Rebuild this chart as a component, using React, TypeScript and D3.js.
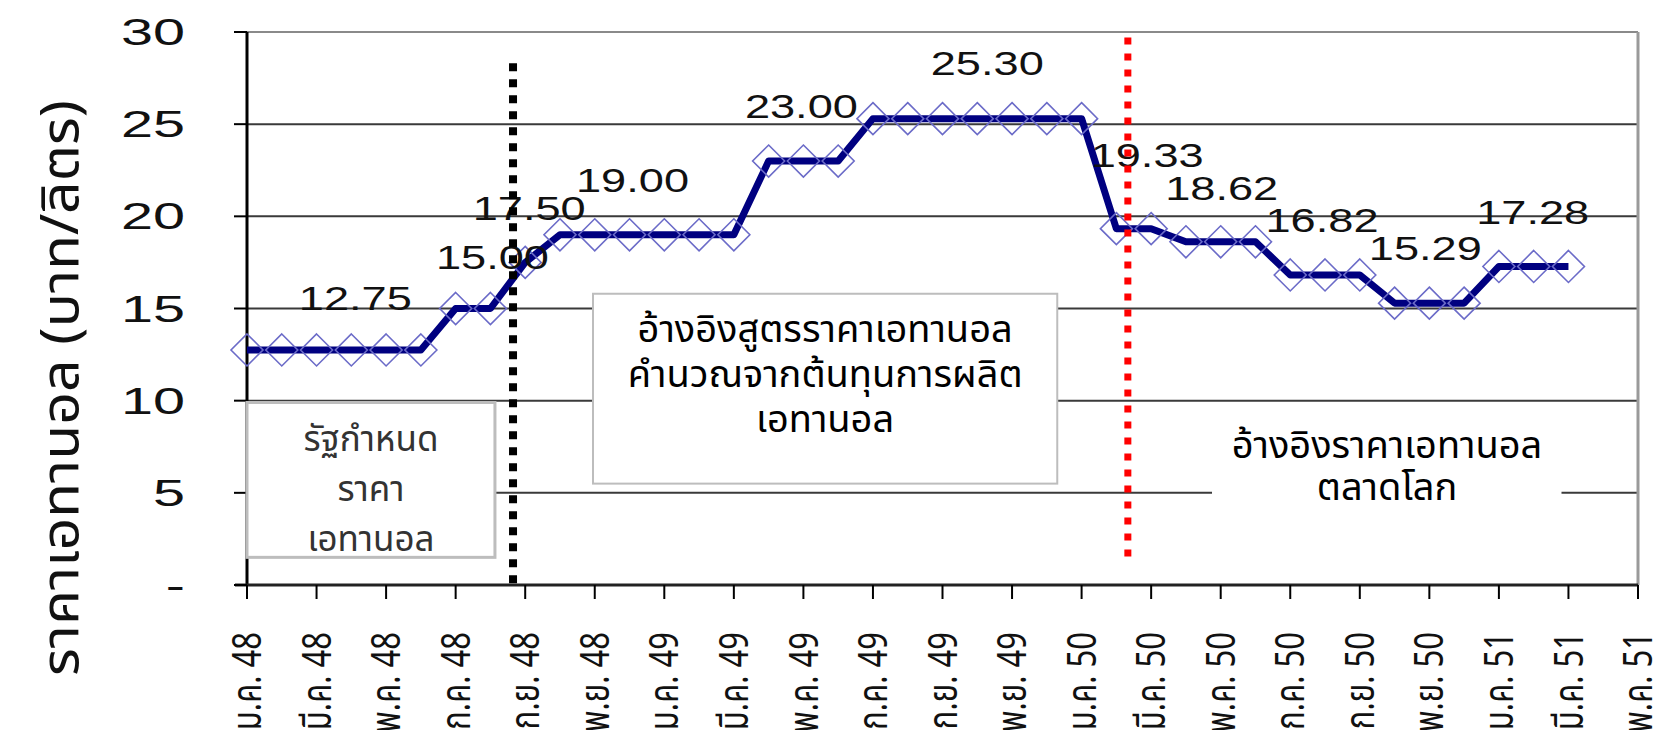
import * as d3 from "d3";

// monthly ethanol price, ม.ค. 48 .. มี.ค. 51 (บาท/ลิตร)
const prices = [
  12.75, 12.75, 12.75, 12.75, 12.75, 12.75,
  15.0, 15.0,
  17.5,
  19.0, 19.0, 19.0, 19.0, 19.0, 19.0,
  23.0, 23.0, 23.0,
  25.3, 25.3, 25.3, 25.3, 25.3, 25.3, 25.3,
  19.33, 19.33,
  18.62, 18.62, 18.62,
  16.82, 16.82, 16.82,
  15.29, 15.29, 15.29,
  17.28, 17.28, 17.28,
];

// tick labels every 2 months
const monthTicks = [
  "ม.ค. 48", "มี.ค. 48", "พ.ค. 48", "ก.ค. 48", "ก.ย. 48", "พ.ย. 48",
  "ม.ค. 49", "มี.ค. 49", "พ.ค. 49", "ก.ค. 49", "ก.ย. 49", "พ.ย. 49",
  "ม.ค. 50", "มี.ค. 50", "พ.ค. 50", "ก.ค. 50", "ก.ย. 50", "พ.ย. 50",
  "ม.ค. 51", "มี.ค. 51", "พ.ค. 51",
];

const yTicks = [0, 5, 10, 15, 20, 25, 30];

// which point carries a value label
const labelIndex = [3, 7, 8, 11, 16, 21, 26, 28, 31, 34, 37];
const labelNudge = [[4, -40], [2, -40], [4, -42], [3, -43], [-2, -43], [10, -44], [-4, -62], [1, -42], [-3, -43], [-4, -43], [-1, -42]];

const yTitle = "ราคาเอทานอล (บาท/ลิตร)";
const boxLeft = ["รัฐกำหนด", "ราคา", "เอทานอล"];
const boxMid = ["อ้างอิงสูตรราคาเอทานอล", "คำนวณจากต้นทุนการผลิต", "เอทานอล"];
const boxRight = ["อ้างอิงราคาเอทานอล", "ตลาดโลก"];

const W = 1656;
const H = 730;
const num = "'Liberation Sans', Arial, sans-serif";
const thai = "Tahoma, 'Noto Sans Thai', 'Noto Sans', 'DejaVu Sans', sans-serif";

export default function App() {
  const x = d3.scaleLinear().domain([0, 40]).range([247, 1638]);
  const y = d3.scaleLinear().domain([0, 30]).range([585, 32]);
  const line = d3.line<number>().x((_, i) => x(i)).y(d => y(d));
  const tickIdx = monthTicks.map((_, i) => i * 2);

  const diamond = (cx: number, cy: number, r: number) =>
    `M${cx},${cy - r}L${cx + r},${cy}L${cx},${cy + r}L${cx - r},${cy}Z`;

  return (
    <svg width={W} height={H} style={{ position: "absolute", left: 0, top: 0, background: "#fff" }}>
      {/* grid */}
      {yTicks.filter(t => t > 0).map(t => (
        <line key={t} x1={x(0)} x2={x(40)} y1={y(t)} y2={y(t)} stroke={t === 30 ? "#8a8a8a" : "#3a3a3a"} strokeWidth={2} />
      ))}
      <line x1={x(40)} x2={x(40)} y1={y(30)} y2={y(0)} stroke="#9a9a9a" strokeWidth={3} />

      {/* axes */}
      <line x1={x(0)} x2={x(0)} y1={y(30)} y2={y(0)} stroke="#000" strokeWidth={3} />
      <line x1={x(0) - 12} x2={x(40)} y1={y(0)} y2={y(0)} stroke="#222" strokeWidth={3} />
      {yTicks.map(t => (
        <line key={t} x1={x(0) - 13} x2={x(0)} y1={y(t)} y2={y(t)} stroke="#000" strokeWidth={2} />
      ))}
      {tickIdx.map(i => (
        <line key={i} x1={x(i)} x2={x(i)} y1={y(0)} y2={y(0) + 14} stroke="#000" strokeWidth={2} />
      ))}

      {/* y tick labels */}
      {yTicks.map(t => (
        <text key={t} transform={`translate(${x(0) - 62},${y(t) + 13}) scale(1.6,1)`} textAnchor="end"
          fontFamily={num} fontSize={36} fill="#111">{t === 0 ? "-" : t}</text>
      ))}

      {/* x tick labels */}
      {tickIdx.map((i, k) => (
        <text key={i} transform={`translate(${x(i)},632) scale(1.3,1) rotate(-90)`} textAnchor="end"
          dy="0.35em" fontFamily={thai} fontSize={31} fill="#111">{monthTicks[k]}</text>
      ))}

      {/* y title */}
      <text transform={`translate(59,388) rotate(-90)`} textAnchor="middle" dy="0.36em"
        fontFamily={thai} fontSize={52} fill="#111" textLength={576} lengthAdjust="spacingAndGlyphs">{yTitle}</text>

      {/* annotation boxes */}
      <rect x={x(0)} y={y(9.9)} width={x(7.13) - x(0)} height={y(1.5) - y(9.9)} fill="#fff" stroke="#bdbdbd" strokeWidth={3} />
      {boxLeft.map((s, i) => (
        <text key={i} x={(x(0) + x(7.13)) / 2} y={451 + i * 50} textAnchor="middle"
          fontFamily={thai} fontSize={35} fill="#333">{s}</text>
      ))}
      <rect x={x(9.95)} y={y(15.8)} width={x(23.3) - x(9.95)} height={y(5.5) - y(15.8)} fill="#fff" stroke="#bdbdbd" strokeWidth={2} />
      {boxMid.map((s, i) => (
        <text key={i} x={(x(9.95) + x(23.3)) / 2} y={342 + i * 45} textAnchor="middle"
          fontFamily={thai} fontSize={38} fill="#000">{s}</text>
      ))}
      <rect x={x(27.75)} y={y(9.5)} width={x(37.8) - x(27.75)} height={y(3.5) - y(9.5)} fill="#fff" />
      {boxRight.map((s, i) => (
        <text key={i} x={1387} y={458 + i * 42} textAnchor="middle"
          fontFamily={thai} fontSize={38} fill="#000">{s}</text>
      ))}

      {/* series */}
      <path d={line(prices) ?? ""} fill="none" stroke="#000080" strokeWidth={7} strokeLinejoin="round" />
      {prices.map((p, i) => (
        <path key={i} d={diamond(x(i), y(p), 16)} fill="none" stroke="#6b6bc8" strokeWidth={1.6} />
      ))}

      {/* value labels */}
      {labelIndex.map((i, k) => (
        <text key={i} x={x(i) + labelNudge[k][0]} y={y(prices[i]) + labelNudge[k][1]} textAnchor="middle"
          fontFamily={num} fontSize={34} fill="#111" textLength={113} lengthAdjust="spacingAndGlyphs">
          {prices[i].toFixed(2)}
        </text>
      ))}

      {/* regime boundaries */}
      <line x1={x(7.65)} x2={x(7.65)} y1={y(28.3)} y2={y(0)} stroke="#000" strokeWidth={8} strokeDasharray="8 8" />
      <line x1={x(25.33)} x2={x(25.33)} y1={y(29.7)} y2={y(1.35)} stroke="#ff0000" strokeWidth={7} strokeDasharray="7 9" />
    </svg>
  );
}
